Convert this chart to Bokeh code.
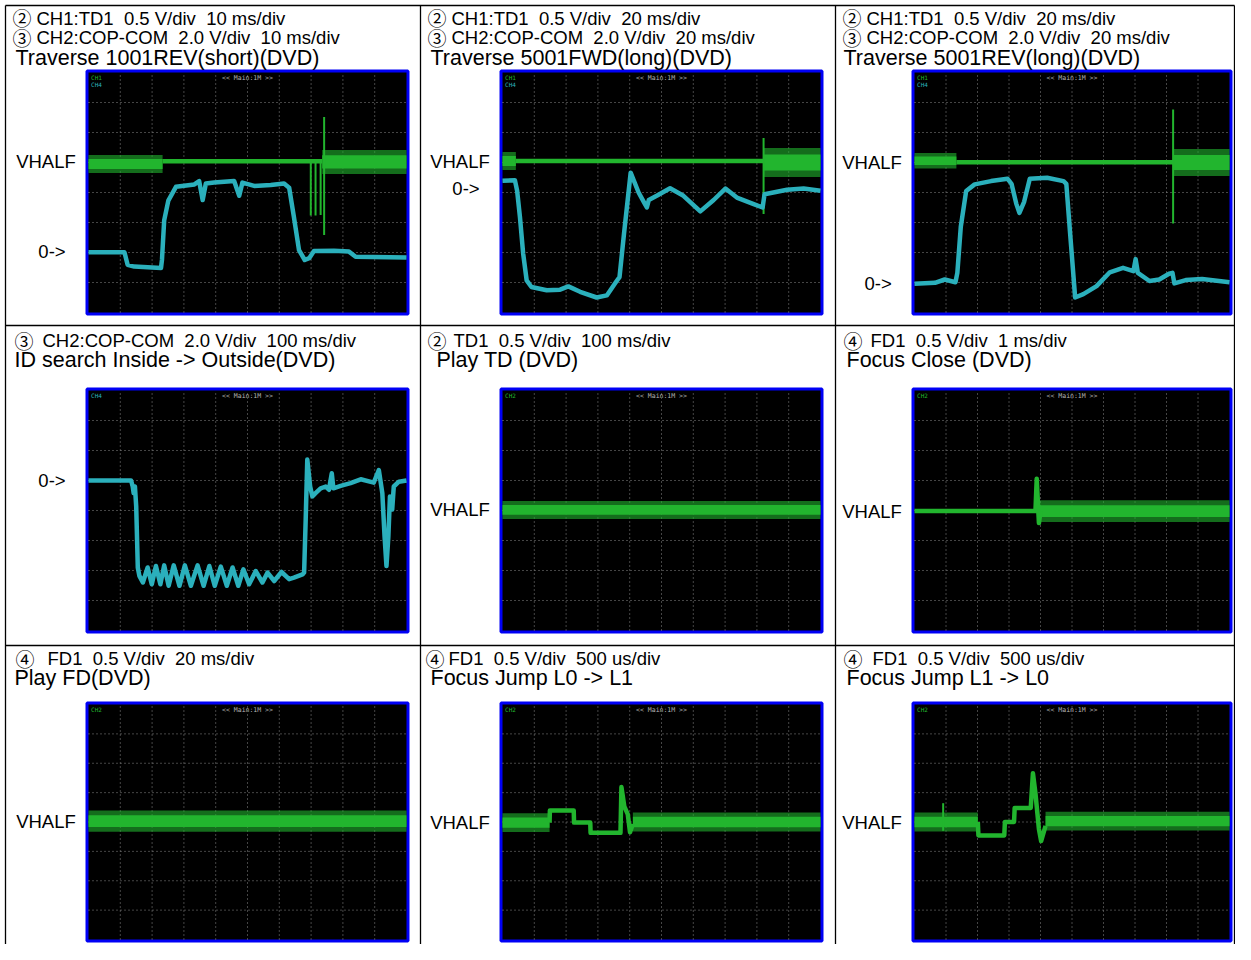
from bokeh.plotting import figure
from bokeh.models import Range1d
from bokeh.embed import file_html
from bokeh.resources import INLINE
from bokeh.core.properties import value

NB = "\u00a0 "  # visible double space

# ------------------------------------------------------------------ texts
HEAD_MARK_1 = ["②", "②", "②", "③", "②", "④", "④", "④", "④"]
HEAD_INFO_1 = ["CH1:TD1" + NB + "0.5 V/div" + NB + "10 ms/div",
               "CH1:TD1" + NB + "0.5 V/div" + NB + "20 ms/div",
               "CH1:TD1" + NB + "0.5 V/div" + NB + "20 ms/div",
               "CH2:COP-COM" + NB + "2.0 V/div" + NB + "100 ms/div",
               "TD1" + NB + "0.5 V/div" + NB + "100 ms/div",
               "FD1" + NB + "0.5 V/div" + NB + "1 ms/div",
               "FD1" + NB + "0.5 V/div" + NB + "20 ms/div",
               "FD1" + NB + "0.5 V/div" + NB + "500 us/div",
               "FD1" + NB + "0.5 V/div" + NB + "500 us/div"]
HEAD_MARK_2 = ["③", "③", "③"]
HEAD_INFO_2 = ["CH2:COP-COM" + NB + "2.0 V/div" + NB + "10 ms/div",
               "CH2:COP-COM" + NB + "2.0 V/div" + NB + "20 ms/div",
               "CH2:COP-COM" + NB + "2.0 V/div" + NB + "20 ms/div"]
TITLES = ["Traverse 1001REV(short)(DVD)", "Traverse 5001FWD(long)(DVD)",
          "Traverse 5001REV(long)(DVD)", "ID search Inside -> Outside(DVD)",
          "Play TD (DVD)", "Focus Close (DVD)", "Play FD(DVD)",
          "Focus Jump L0 -> L1", "Focus Jump L1 -> L0"]
SCREEN_TAG = "<< Main:1M >>"
CH_TAGS = [["CH1", "CH4"], ["CH1", "CH4"], ["CH1", "CH4"], ["CH4"], ["CH2"], ["CH2"],
           ["CH2"], ["CH2"], ["CH2"]]

# reference levels (divisions from bottom of screen)
VHALF_LEVEL = [5.04, 5.05, 5.01, None, 4.02, 3.98, 4.03, 4.0, 4.0]
ZERO_LEVEL = [2.05, 4.12, 0.97, 5.0, None, None, None, None, None]

# ------------------------------------------------------------------ waveform data (divisions)
# 1: Traverse 1001REV(short)
S1_TD_NOISE_X0 = [0.0, 7.35]
S1_TD_NOISE_X1 = [2.33, 10.0]
S1_TD_NOISE_MID = [4.95, 5.02]
S1_TD_NOISE_HALF = [0.30, 0.40]
S1_TD_X = [2.33, 7.35]
S1_TD_Y = [5.04, 5.04]
S1_TD_SPIKE_X = [6.99, 7.14, 7.30, 7.41]
S1_TD_SPIKE_LO = [3.23, 3.23, 3.25, 2.58]
S1_TD_SPIKE_HI = [5.04, 5.04, 5.04, 6.52]
S1_COP_X = [0.0, 1.13, 1.23, 1.44, 2.28, 2.31, 2.38, 2.51, 2.75, 3.33, 3.48, 3.59, 3.69,
            3.95, 4.58, 4.74, 4.84, 5.21, 5.73, 6.15, 6.31, 6.46, 6.62, 6.80, 6.94, 7.09,
            7.72, 8.19, 8.40, 10.0]
S1_COP_Y = [2.01, 2.01, 1.59, 1.53, 1.48, 1.75, 3.07, 3.73, 4.19, 4.27, 4.38, 3.75, 4.30,
            4.33, 4.38, 3.89, 4.33, 4.22, 4.25, 4.30, 4.16, 3.18, 2.08, 1.75, 1.81, 2.05,
            2.06, 2.03, 1.86, 1.83]

# 2: Traverse 5001FWD(long)
S2_TD_NOISE_X0 = [0.0, 8.21]
S2_TD_NOISE_X1 = [0.42, 10.0]
S2_TD_NOISE_MID = [5.05, 5.0]
S2_TD_NOISE_HALF = [0.30, 0.48]
S2_TD_X = [0.42, 8.21]
S2_TD_Y = [5.05, 5.05]
S2_TD_SPIKE_X = [8.21]
S2_TD_SPIKE_LO = [3.28]
S2_TD_SPIKE_HI = [5.82]
S2_COP_X = [0.0, 0.39, 0.46, 0.55, 0.65, 0.76, 0.91, 1.39, 1.81, 2.07, 2.44, 2.96, 3.28,
            3.59, 3.68, 3.82, 4.03, 4.28, 4.45, 4.54, 4.60, 4.85, 5.27, 5.69, 6.22, 6.64,
            7.01, 7.37, 7.90, 8.18, 8.24, 8.95, 9.47, 10.0]
S2_COP_Y = [4.39, 4.41, 4.06, 3.17, 1.96, 1.07, 0.85, 0.74, 0.76, 0.87, 0.69, 0.50, 0.57,
            1.05, 1.18, 2.62, 4.66, 4.00, 3.67, 3.50, 3.75, 3.89, 4.14, 3.89, 3.37, 3.75,
            4.13, 3.83, 3.61, 3.50, 3.94, 4.09, 4.13, 4.06]

# 3: Traverse 5001REV(long)
S3_TD_NOISE_X0 = [0.0, 8.21]
S3_TD_NOISE_X1 = [1.33, 10.0]
S3_TD_NOISE_MID = [5.06, 5.0]
S3_TD_NOISE_HALF = [0.26, 0.45]
S3_TD_X = [1.33, 8.21]
S3_TD_Y = [5.01, 5.01]
S3_TD_SPIKE_X = [8.21]
S3_TD_SPIKE_LO = [2.97]
S3_TD_SPIKE_HI = [6.77]
S3_COP_X = [0.0, 0.65, 0.96, 1.30, 1.36, 1.47, 1.64, 1.91, 2.43, 2.95, 3.08, 3.23, 3.33,
            3.48, 3.66, 4.21, 4.73, 4.82, 4.94, 5.10, 5.36, 5.78, 6.20, 6.62, 6.95, 7.02,
            7.09, 7.46, 7.77, 8.08, 8.19, 8.25, 8.61, 9.13, 10.0]
S3_COP_Y = [0.96, 0.99, 1.10, 1.01, 1.32, 2.86, 4.05, 4.27, 4.38, 4.46, 4.29, 3.63, 3.32,
            3.69, 4.46, 4.49, 4.38, 4.29, 2.64, 0.50, 0.61, 0.88, 1.34, 1.49, 1.38, 1.78,
            1.32, 1.05, 1.10, 1.29, 1.32, 0.97, 1.08, 1.12, 1.01]

# 4: ID search Inside -> Outside
S4_COP_X = [0.0, 1.34, 1.39, 1.42, 1.46, 1.50, 1.55, 1.60, 1.71, 1.86, 1.99, 2.12, 2.26,
            2.38, 2.52, 2.68, 2.86, 3.03, 3.22, 3.43, 3.62, 3.80, 3.97, 4.16, 4.35, 4.53,
            4.71, 4.87, 5.05, 5.26, 5.47, 5.63, 5.84, 6.07, 6.31, 6.46, 6.73, 6.78, 6.83,
            6.88, 6.97, 7.04, 7.14, 7.30, 7.46, 7.56, 7.65, 7.70, 7.93, 8.24, 8.56, 8.97,
            9.13, 9.24, 9.31, 9.37, 9.43, 9.48, 9.55, 9.60, 9.76, 10.0]
S4_COP_Y = [5.00, 5.00, 4.80, 4.58, 4.80, 4.14, 2.10, 1.82, 1.60, 2.10, 1.54, 2.15, 1.54,
            2.17, 1.49, 2.17, 1.49, 2.17, 1.49, 2.17, 1.49, 2.15, 1.49, 2.13, 1.49, 2.10,
            1.49, 2.04, 1.54, 1.98, 1.60, 1.93, 1.65, 1.95, 1.71, 1.76, 1.87, 1.93, 3.70,
            5.70, 4.80, 4.47, 4.58, 4.74, 4.80, 4.69, 5.24, 4.74, 4.82, 4.91, 5.04, 4.93,
            5.35, 4.58, 3.14, 2.15, 3.14, 4.47, 4.03, 4.80, 4.96, 5.00]

# 5: Play TD
S5_TD_NOISE_X0 = [0.0]
S5_TD_NOISE_X1 = [10.0]
S5_TD_NOISE_MID = [4.02]
S5_TD_NOISE_HALF = [0.30]

# 6: Focus Close
S6_FD_NOISE_X0 = [3.95]
S6_FD_NOISE_X1 = [10.0]
S6_FD_NOISE_MID = [3.98]
S6_FD_NOISE_HALF = [0.36]
S6_FD_X = [0.0, 3.84, 3.88, 3.95, 4.00]
S6_FD_Y = [3.98, 3.98, 5.06, 3.58, 3.98]

# 7: Play FD
S7_FD_NOISE_X0 = [0.0]
S7_FD_NOISE_X1 = [10.0]
S7_FD_NOISE_MID = [4.03]
S7_FD_NOISE_HALF = [0.36]

# 8: Focus Jump L0 -> L1
S8_FD_NOISE_X0 = [0.0, 4.10]
S8_FD_NOISE_X1 = [1.48, 10.0]
S8_FD_NOISE_MID = [3.98, 4.00]
S8_FD_NOISE_HALF = [0.32, 0.32]
S8_FD_X = [1.48, 1.49, 2.24, 2.25, 2.76, 2.77, 3.71, 3.74, 3.83, 3.94, 4.01, 4.10]
S8_FD_Y = [3.98, 4.39, 4.39, 3.98, 3.98, 3.63, 3.63, 5.19, 4.53, 4.26, 3.65, 3.93]

# 9: Focus Jump L1 -> L0
S9_FD_NOISE_X0 = [0.0, 4.16]
S9_FD_NOISE_X1 = [2.01, 10.0]
S9_FD_NOISE_MID = [4.00, 4.03]
S9_FD_NOISE_HALF = [0.32, 0.32]
S9_FD_SPIKE_X = [0.91]
S9_FD_SPIKE_LO = [3.70]
S9_FD_SPIKE_HI = [4.64]
S9_FD_X = [2.01, 2.03, 2.85, 2.87, 3.16, 3.18, 3.69, 3.76, 3.84, 3.95, 4.02, 4.16]
S9_FD_Y = [4.00, 3.54, 3.54, 4.00, 4.00, 4.48, 4.48, 5.66, 4.97, 3.76, 3.35, 3.87]

GREEN = "#22b52e"
CYAN = "#2bb0bc"

SCOPES = [
    dict(noise=[(S1_TD_NOISE_X0, S1_TD_NOISE_X1, S1_TD_NOISE_MID, S1_TD_NOISE_HALF, GREEN)],
         lines=[(S1_TD_X, S1_TD_Y, GREEN), (S1_COP_X, S1_COP_Y, CYAN)],
         spikes=[(S1_TD_SPIKE_X, S1_TD_SPIKE_LO, S1_TD_SPIKE_HI, GREEN)]),
    dict(noise=[(S2_TD_NOISE_X0, S2_TD_NOISE_X1, S2_TD_NOISE_MID, S2_TD_NOISE_HALF, GREEN)],
         lines=[(S2_TD_X, S2_TD_Y, GREEN), (S2_COP_X, S2_COP_Y, CYAN)],
         spikes=[(S2_TD_SPIKE_X, S2_TD_SPIKE_LO, S2_TD_SPIKE_HI, GREEN)]),
    dict(noise=[(S3_TD_NOISE_X0, S3_TD_NOISE_X1, S3_TD_NOISE_MID, S3_TD_NOISE_HALF, GREEN)],
         lines=[(S3_TD_X, S3_TD_Y, GREEN), (S3_COP_X, S3_COP_Y, CYAN)],
         spikes=[(S3_TD_SPIKE_X, S3_TD_SPIKE_LO, S3_TD_SPIKE_HI, GREEN)]),
    dict(noise=[], lines=[(S4_COP_X, S4_COP_Y, CYAN)], spikes=[]),
    dict(noise=[(S5_TD_NOISE_X0, S5_TD_NOISE_X1, S5_TD_NOISE_MID, S5_TD_NOISE_HALF, GREEN)],
         lines=[], spikes=[]),
    dict(noise=[(S6_FD_NOISE_X0, S6_FD_NOISE_X1, S6_FD_NOISE_MID, S6_FD_NOISE_HALF, GREEN)],
         lines=[(S6_FD_X, S6_FD_Y, GREEN)], spikes=[]),
    dict(noise=[(S7_FD_NOISE_X0, S7_FD_NOISE_X1, S7_FD_NOISE_MID, S7_FD_NOISE_HALF, GREEN)],
         lines=[], spikes=[]),
    dict(noise=[(S8_FD_NOISE_X0, S8_FD_NOISE_X1, S8_FD_NOISE_MID, S8_FD_NOISE_HALF, GREEN)],
         lines=[(S8_FD_X, S8_FD_Y, GREEN)], spikes=[]),
    dict(noise=[(S9_FD_NOISE_X0, S9_FD_NOISE_X1, S9_FD_NOISE_MID, S9_FD_NOISE_HALF, GREEN)],
         lines=[(S9_FD_X, S9_FD_Y, GREEN)],
         spikes=[(S9_FD_SPIKE_X, S9_FD_SPIKE_LO, S9_FD_SPIKE_HI, GREEN)]),
]

# ------------------------------------------------------------------ layout (picture pixels)
W, H = 1235, 944
COL_LINES = [5, 420, 835, 1234]
ROW_LINES = [5, 325, 645]
SCOPE_LEFT = [85, 499, 911]
SCOPE_WIDTH = [324, 324, 321]
SCOPE_TOP = [69, 387, 701]
SCOPE_HEIGHT = [246, 246, 241]
MARK_X = [12, 427, 842, 14, 427, 843, 15, 425, 843]
INFO_X = [36, 451, 866, 42, 453, 870, 47, 448, 872]
TITLE_X = [15, 430, 843, 14, 436, 846, 14, 430, 846]
INFO1_MID = [17.5, 340, 658]
INFO2_MID = 37
TITLE_MID = [57, 359.5, 677.5]

FONT = value("Liberation Sans")
MARK_FONT = value("Noto Sans CJK JP")

p = figure(width=W, height=H, x_range=Range1d(0, W), y_range=Range1d(H, 0),
           output_backend="svg", toolbar_location=None, x_axis_location=None,
           y_axis_location=None, min_border=0)
p.outline_line_color = None
p.background_fill_color = "white"
p.border_fill_color = "white"
p.grid.visible = False

# cell borders
p.segment(x0=COL_LINES, y0=[5] * 4, x1=COL_LINES, y1=[H] * 4,
          line_color="black", line_width=1.3)
p.segment(x0=[5] * 3, y0=ROW_LINES, x1=[1234] * 3, y1=ROW_LINES,
          line_color="black", line_width=1.3)

# scope screens
lefts, rights, tops, bottoms = [], [], [], []
for i in range(9):
    r, c = divmod(i, 3)
    L, T = SCOPE_LEFT[c], SCOPE_TOP[r]
    lefts.append(L + 1.5); rights.append(L + SCOPE_WIDTH[c] - 1.5)
    tops.append(T + 1.5); bottoms.append(T + SCOPE_HEIGHT[r] - 1.5)
p.quad(left=lefts, right=rights, top=tops, bottom=bottoms, fill_color="black",
       line_color="#0000f5", line_width=3)

# header texts
for i in range(9):
    r, c = divmod(i, 3)
    p.text(x=[MARK_X[i]], y=[INFO1_MID[r] - 0.5], text=[HEAD_MARK_1[i]], text_font=MARK_FONT,
           text_font_size="19px", text_color="black", text_baseline="middle")
    p.text(x=[INFO_X[i]], y=[INFO1_MID[r]], text=[HEAD_INFO_1[i]], text_font=FONT,
           text_font_size="18.5px", text_color="black", text_baseline="middle")
    if r == 0:
        p.text(x=[MARK_X[i]], y=[INFO2_MID - 0.5], text=[HEAD_MARK_2[c]], text_font=MARK_FONT,
               text_font_size="19px", text_color="black", text_baseline="middle")
        p.text(x=[INFO_X[i]], y=[INFO2_MID], text=[HEAD_INFO_2[c]], text_font=FONT,
               text_font_size="18.5px", text_color="black", text_baseline="middle")
    p.text(x=[TITLE_X[i]], y=[TITLE_MID[r]], text=[TITLES[i]], text_font=FONT,
           text_font_size="21.5px", text_color="black", text_baseline="middle")

for i, sc in enumerate(SCOPES):
    r, c = divmod(i, 3)
    L, T = SCOPE_LEFT[c], SCOPE_TOP[r]
    sub = p.subplot(x_source=Range1d(0, 10), y_source=Range1d(0, 8),
                    x_target=Range1d(L + 3, L + SCOPE_WIDTH[c] - 3),
                    y_target=Range1d(T + SCOPE_HEIGHT[r] - 3, T + 3))
    # graticule
    gx = list(range(1, 10))
    gy = list(range(1, 8))
    sub.segment(x0=gx, y0=[0] * 9, x1=gx, y1=[8] * 9, line_color="#8a8a8a",
                line_width=1, line_dash="1 3")
    sub.segment(x0=[0] * 7, y0=gy, x1=[10] * 7, y1=gy, line_color="#8a8a8a",
                line_width=1, line_dash="1 3")
    sub.text(x=[5], y=[7.95], text=[SCREEN_TAG], text_font=value("DejaVu Sans Mono"),
             text_font_size="6.5px", text_color="#b5b5b5", text_align="center",
             text_baseline="top")
    for k, tag in enumerate(CH_TAGS[i]):
        sub.text(x=[0.08], y=[7.95 - 0.22 * k], text=[tag], text_font=value("DejaVu Sans Mono"),
                 text_font_size="6px", text_color=(CYAN if tag == "CH4" else GREEN),
                 text_baseline="top")
    # noise bands
    for x0s, x1s, mids, halves, col in sc["noise"]:
        for a, b, m, h in zip(x0s, x1s, mids, halves):
            sub.varea(x=[a, b], y1=[m - h, m - h], y2=[m + h, m + h], fill_color=col,
                      fill_alpha=0.6)
            sub.varea(x=[a, b], y1=[m - 0.55 * h, m - 0.55 * h], y2=[m + 0.55 * h, m + 0.55 * h],
                      fill_color=col, fill_alpha=1.0)
    for xs, los, his, col in sc["spikes"]:
        sub.segment(x0=xs, y0=los, x1=xs, y1=his, line_color=col, line_width=2)
    for xs, ys, col in sc["lines"]:
        sub.line(x=xs, y=ys, line_color=col, line_width=4.5, line_join="round")
    # side labels
    if VHALF_LEVEL[i] is not None:
        sub.text(x=[-0.4], y=[VHALF_LEVEL[i]], text=["VHALF"], text_font=FONT,
                 text_font_size="18.5px", text_color="black", text_align="right",
                 text_baseline="middle")
    if ZERO_LEVEL[i] is not None:
        sub.text(x=[-0.72], y=[ZERO_LEVEL[i]], text=["0->"], text_font=FONT,
                 text_font_size="18.5px", text_color="black", text_align="right",
                 text_baseline="middle")

open("out.html", "w").write(file_html(p, INLINE))
